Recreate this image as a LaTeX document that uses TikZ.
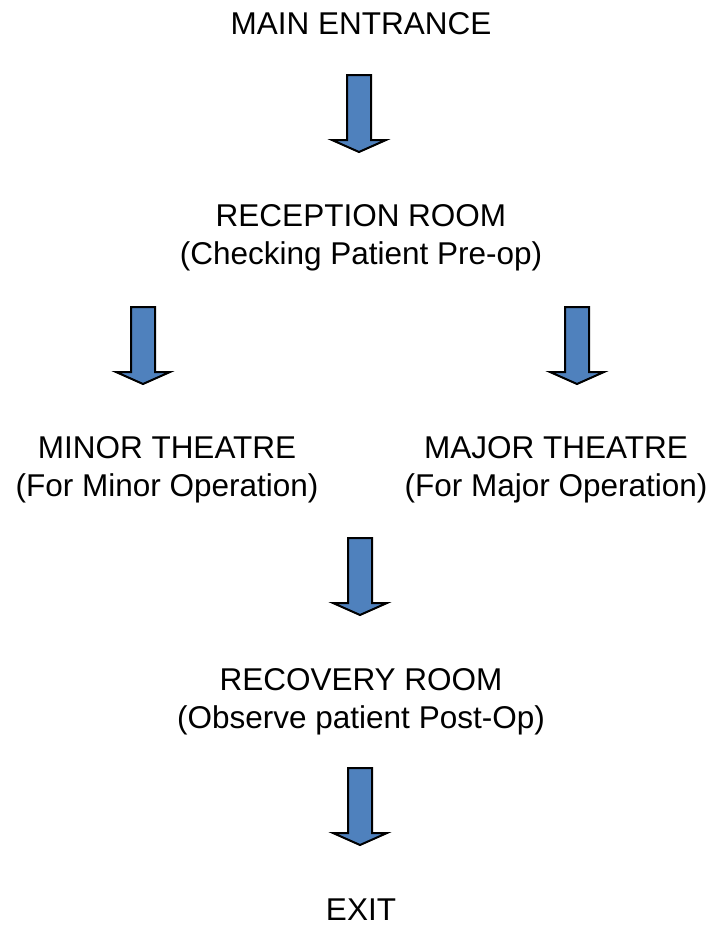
\documentclass[tikz,border=0pt]{standalone}
\usepackage{fontspec}
\setmainfont{Liberation Sans}
\definecolor{arrowblue}{HTML}{4F81BD}
\begin{document}
\begin{tikzpicture}[x=1pt,y=-1pt,
  lbl/.style={anchor=base,inner sep=0pt,font=\fontsize{31.5}{38}\selectfont},
  blockarrow/.pic={\draw[fill=arrowblue,line width=2pt,line join=miter]
     (-12,0) -- (12,0) -- (12,65) -- (27,65) -- (0,77) -- (-27,65) -- (-12,65) -- cycle;}]
\useasboundingbox (0,0) rectangle (712,926);
\node[lbl] (entrance) at (361,34) {MAIN ENTRANCE};
\node[lbl] (recep1) at (361,226) {RECEPTION ROOM};
\node[lbl] (recep2) at (361,264) {(Checking Patient Pre-op)};
\node[lbl] (minor1) at (167,458) {MINOR THEATRE};
\node[lbl] (minor2) at (167,496) {(For Minor Operation)};
\node[lbl] (major1) at (556,458) {MAJOR THEATRE};
\node[lbl] (major2) at (556,496) {(For Major Operation)};
\node[lbl] (recov1) at (361,690) {RECOVERY ROOM};
\node[lbl] (recov2) at (361,728) {(Observe patient Post-Op)};
\node[lbl] (exit) at (361,920) {EXIT};
\pic at (359,75) {blockarrow};
\pic at (143,307) {blockarrow};
\pic at (577,307) {blockarrow};
\pic at (360,538) {blockarrow};
\pic at (360,768) {blockarrow};
\end{tikzpicture}
\end{document}
